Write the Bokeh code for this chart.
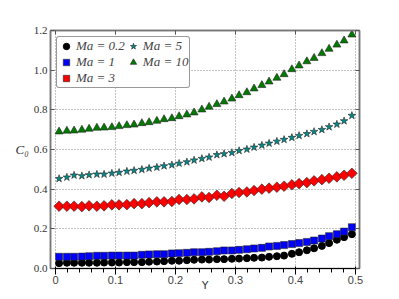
import math
from bokeh.plotting import figure
from bokeh.models import Range1d, FixedTicker, PrintfTickFormatter, Legend, LegendItem, LinearAxis
from bokeh.embed import file_html
from bokeh.resources import INLINE

y_pos = [0.006, 0.019, 0.031, 0.044, 0.056, 0.069, 0.081, 0.094, 0.106, 0.119,
         0.131, 0.144, 0.156, 0.169, 0.181, 0.194, 0.206, 0.219, 0.231, 0.244,
         0.256, 0.269, 0.281, 0.294, 0.306, 0.319, 0.331, 0.344, 0.356, 0.369,
         0.381, 0.394, 0.406, 0.419, 0.431, 0.444, 0.456, 0.469, 0.481, 0.494]

c0_ma02 = [0.027, 0.029, 0.029, 0.029, 0.029, 0.029, 0.030, 0.030, 0.030, 0.032,
           0.032, 0.032, 0.034, 0.035, 0.037, 0.039, 0.039, 0.042, 0.044, 0.045,
           0.045, 0.047, 0.047, 0.049, 0.050, 0.052, 0.054, 0.055, 0.059, 0.062,
           0.065, 0.074, 0.082, 0.092, 0.102, 0.114, 0.128, 0.145, 0.158, 0.173]
c0_ma1 = [0.059, 0.059, 0.059, 0.060, 0.062, 0.064, 0.064, 0.065, 0.065, 0.065,
          0.065, 0.069, 0.071, 0.072, 0.072, 0.076, 0.077, 0.079, 0.082, 0.082,
          0.084, 0.087, 0.091, 0.091, 0.094, 0.097, 0.101, 0.104, 0.111, 0.114,
          0.118, 0.123, 0.128, 0.134, 0.141, 0.151, 0.163, 0.173, 0.186, 0.208]
c0_ma3 = [0.314, 0.314, 0.314, 0.312, 0.316, 0.314, 0.316, 0.321, 0.321, 0.322,
          0.327, 0.327, 0.332, 0.336, 0.336, 0.338, 0.348, 0.348, 0.351, 0.361,
          0.358, 0.369, 0.364, 0.378, 0.383, 0.386, 0.393, 0.400, 0.405, 0.410,
          0.415, 0.422, 0.428, 0.433, 0.442, 0.448, 0.455, 0.462, 0.470, 0.480]
c0_ma5 = [0.453, 0.460, 0.470, 0.467, 0.472, 0.475, 0.475, 0.480, 0.484, 0.490,
          0.494, 0.499, 0.505, 0.510, 0.517, 0.522, 0.530, 0.537, 0.546, 0.554,
          0.561, 0.573, 0.578, 0.584, 0.594, 0.601, 0.611, 0.621, 0.631, 0.641,
          0.650, 0.660, 0.670, 0.679, 0.690, 0.700, 0.714, 0.727, 0.744, 0.771]
c0_ma10 = [0.690, 0.694, 0.695, 0.699, 0.704, 0.709, 0.710, 0.712, 0.717, 0.722,
           0.725, 0.732, 0.737, 0.744, 0.752, 0.757, 0.767, 0.776, 0.786, 0.801,
           0.815, 0.828, 0.841, 0.856, 0.873, 0.888, 0.907, 0.924, 0.942, 0.961,
           0.979, 1.004, 1.023, 1.044, 1.061, 1.085, 1.107, 1.128, 1.149, 1.179]

labels = ["Ma = 0.2", "Ma = 1", "Ma = 3", "Ma = 5", "Ma = 10"]
x_ticks = [0.0, 0.1, 0.2, 0.3, 0.4, 0.5]
y_ticks = [0.0, 0.2, 0.4, 0.6, 0.8, 1.0, 1.2]

SERIF = "Liberation Serif"
FRAME = "#777777"

p = figure(width=399, height=299, output_backend="svg", toolbar_location=None,
           x_range=Range1d(-0.0083, 0.5067), y_range=Range1d(0.0, 1.2),
           min_border_left=50, min_border_right=40, min_border_top=30, min_border_bottom=31)
p.background_fill_color = "white"
p.border_fill_color = "white"
p.outline_line_color = FRAME
p.outline_line_width = 1.5

r1 = p.scatter(y_pos, c0_ma02, marker="circle", size=7, fill_color="black", line_color="black")
r2 = p.scatter(y_pos, c0_ma1, marker="square", size=7, fill_color="#0000ff", line_color="#222222", line_width=0.6)
r3 = p.scatter(y_pos, c0_ma3, marker="square", angle=math.pi / 4, size=7.5, fill_color="#ff0000",
               line_color="#222222", line_width=0.6)
r4 = p.scatter(y_pos, c0_ma5, marker="star", size=8, fill_color="#008b8b", line_color="#222222", line_width=0.6)
r5 = p.scatter(y_pos, c0_ma10, marker="triangle", size=8, fill_color="#007a00", line_color="#222222", line_width=0.6)

top_ax = LinearAxis()
right_ax = LinearAxis()
p.add_layout(top_ax, "above")
p.add_layout(right_ax, "right")

for ax in (p.xaxis[0], p.yaxis[0], top_ax, right_ax):
    ax.axis_line_color = FRAME
    ax.axis_line_width = 1.5
    ax.major_tick_in = 4
    ax.major_tick_out = 0
    ax.minor_tick_line_color = None
    ax.major_tick_line_color = "#555555"
    ax.major_label_text_font = SERIF
    ax.major_label_text_font_size = "11px"
    ax.major_label_text_color = "#333333"
    ax.major_label_standoff = 3
    ax.formatter = PrintfTickFormatter(format="%.1f")

for ax in (top_ax, right_ax):
    ax.major_label_text_color = None

p.xaxis[0].ticker = FixedTicker(ticks=x_ticks)
top_ax.ticker = FixedTicker(ticks=x_ticks)
p.yaxis[0].ticker = FixedTicker(ticks=y_ticks)
right_ax.ticker = FixedTicker(ticks=y_ticks)

bx = p.below[0]
bx.major_label_standoff = 1
bx.axis_label = "Y"
bx.axis_label_text_font = "DejaVu Sans"
bx.axis_label_text_font_style = "normal"
bx.axis_label_text_font_size = "11px"
bx.axis_label_standoff = -8
bx.axis_label_text_color = "#333333"

ly = p.left[0]
ly.axis_label = "C\u2080"
ly.axis_label_orientation = "horizontal"
ly.axis_label_text_font = SERIF
ly.axis_label_text_font_style = "italic"
ly.axis_label_text_font_size = "13px"
ly.axis_label_standoff = 2
ly.axis_label_text_color = "#333333"

p.xgrid.ticker = FixedTicker(ticks=x_ticks)
p.ygrid.ticker = FixedTicker(ticks=y_ticks)
p.grid.grid_line_color = "#888888"
p.grid.grid_line_dash = "1 2"
p.grid.grid_line_width = 1

legend = Legend(items=[LegendItem(label=labels[0], renderers=[r1]),
                       LegendItem(label=labels[1], renderers=[r2]),
                       LegendItem(label=labels[2], renderers=[r3]),
                       LegendItem(label=labels[3], renderers=[r4]),
                       LegendItem(label=labels[4], renderers=[r5])],
                location="top_left", nrows=3, orientation="vertical")
legend.margin = 6
legend.padding = 1
legend.spacing = 0
legend.label_text_font = SERIF
legend.label_text_font_style = "italic"
legend.label_text_font_size = "13px"
legend.label_height = 16
legend.glyph_height = 16
legend.glyph_width = 16
legend.label_standoff = 2
legend.border_line_color = "#333333"
legend.border_line_width = 1.2
legend.border_radius = 3
legend.background_fill_alpha = 1.0
p.add_layout(legend)

open("out.html", "w").write(file_html(p, INLINE))
